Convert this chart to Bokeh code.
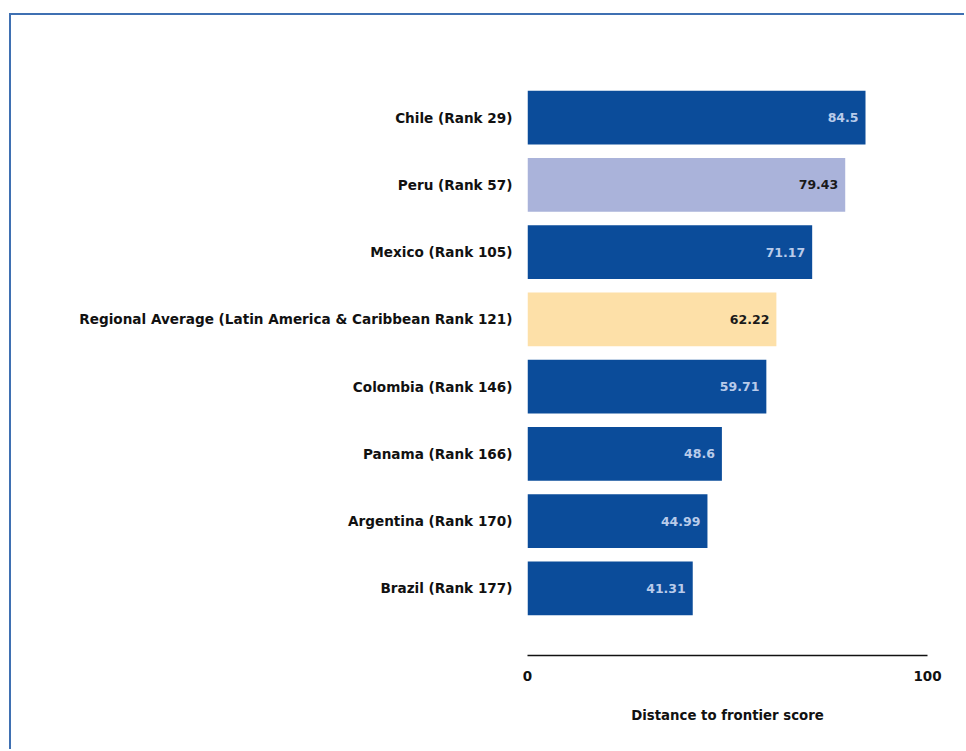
from bokeh.plotting import figure
from bokeh.models import FactorRange, Range1d, LinearAxis, CategoricalAxis, FixedTicker, ColumnDataSource
from bokeh.core.properties import value
from bokeh.embed import file_html
from bokeh.resources import INLINE

categories = ["Chile (Rank 29)", "Peru (Rank 57)", "Mexico (Rank 105)",
              "Regional Average (Latin America & Caribbean Rank 121)",
              "Colombia (Rank 146)", "Panama (Rank 166)", "Argentina (Rank 170)",
              "Brazil (Rank 177)"]
scores = [84.5, 79.43, 71.17, 62.22, 59.71, 48.6, 44.99, 41.31]
score_labels = ["84.5", "79.43", "71.17", "62.22", "59.71", "48.6", "44.99", "41.31"]
bar_colors = ["#0b4c9a", "#aab3da", "#0b4c9a", "#fde0a8", "#0b4c9a", "#0b4c9a", "#0b4c9a", "#0b4c9a"]
label_colors = ["#b9cbea", "#1a1a1a", "#b9cbea", "#1a1a1a", "#b9cbea", "#b9cbea", "#b9cbea", "#b9cbea"]
x_ticks = [0, 100]
x_title = "Distance to frontier score"

FONT = "DejaVu Sans"

src = ColumnDataSource(dict(cat=categories, val=scores, lab=score_labels,
                            color=bar_colors, lcolor=label_colors))

p = figure(width=955, height=736, output_backend="svg", toolbar_location=None,
           y_range=FactorRange(factors=list(reversed(categories)), range_padding=0.5,
                               range_padding_units="absolute"),
           x_range=Range1d(0, 100), x_axis_location=None, y_axis_location=None,
           min_border_left=516, min_border_right=39, min_border_top=35, min_border_bottom=96)
p.styles = {"border-top": "2px solid #3f70b2", "border-left": "2px solid #3f70b2"}
p.margin = (13, 0, 0, 9)
p.outline_line_color = None
p.xgrid.visible = False
p.ygrid.visible = False
p.background_fill_color = "white"
p.border_fill_color = "white"

p.hbar(y="cat", right="val", left=0, height=0.8, fill_color="color", line_color=None, source=src)
p.text(x="val", y="cat", text="lab", text_color="lcolor", x_offset=-7,
       text_align="right", text_baseline="middle", text_font=value(FONT),
       text_font_style="bold", text_font_size="12.5px", source=src)

yax = CategoricalAxis()
yax.axis_line_color = None
yax.major_tick_line_color = None
yax.minor_tick_line_color = None
yax.major_label_text_font = FONT
yax.major_label_text_font_style = "bold"
yax.major_label_text_font_size = "13.6px"
yax.major_label_text_color = "#111111"
yax.major_label_standoff = 9
p.add_layout(yax, "left")

xax = LinearAxis(ticker=FixedTicker(ticks=x_ticks), axis_label=x_title)
xax.axis_line_color = "#111111"
xax.axis_line_width = 1.5
xax.major_tick_line_color = None
xax.minor_tick_line_color = None
xax.major_tick_out = 0
xax.major_label_standoff = 15
xax.major_label_text_font = FONT
xax.major_label_text_font_style = "bold"
xax.major_label_text_font_size = "13.5px"
xax.major_label_text_color = "#111111"
xax.axis_label_standoff = 24
xax.axis_label_text_font = FONT
xax.axis_label_text_font_style = "bold"
xax.axis_label_text_font_size = "13.3px"
xax.axis_label_text_color = "#111111"
p.add_layout(xax, "below")

open("out.html", "w").write(file_html(p, INLINE))
